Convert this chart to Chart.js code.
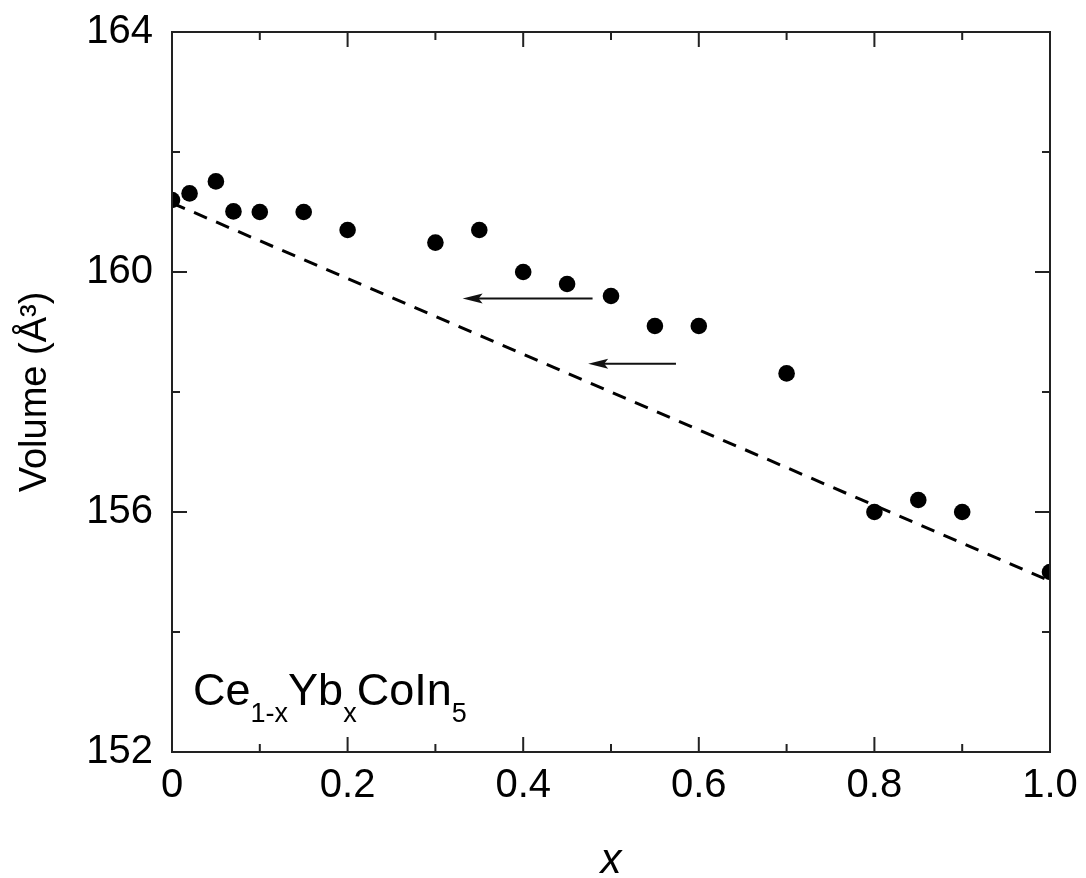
<!DOCTYPE html>
<html>
<head>
<meta charset="utf-8">
<script src="https://cdn.jsdelivr.net/npm/chart.js@4/dist/chart.umd.min.js"></script>
<style>
  html, body { margin: 0; padding: 0; background: #fff; }
  #wrap { width: 1086px; height: 878px; }
</style>
</head>
<body>
<div id="wrap"><canvas id="c" width="1086" height="878"></canvas></div>
<script>
// ---- data ----
const xValues = [0, 0.02, 0.05, 0.07, 0.10, 0.15, 0.20, 0.30, 0.35, 0.40, 0.45, 0.50, 0.55, 0.60, 0.70, 0.80, 0.85, 0.90, 1.00];
const volumes = [161.20, 161.31, 161.51, 161.01, 161.00, 161.00, 160.70, 160.49, 160.70, 160.00, 159.80, 159.60, 159.10, 159.10, 158.31, 156.00, 156.20, 156.00, 155.00];
const vegardX = [0, 1];
const vegardY = [161.15, 154.85];
const arrowFromX = [0.479, 0.574];
const arrowToX = [0.331, 0.474];
const arrowY = [159.56, 158.47];
const xTickLabels = ['0', '0.2', '0.4', '0.6', '0.8', '1.0'];
const yTickLabels = ['152', '156', '160', '164'];
const xMajorTicks = [0, 0.2, 0.4, 0.6, 0.8, 1.0];
const xMinorTicks = [0.1, 0.3, 0.5, 0.7, 0.9];
const yMajorTicks = [152, 156, 160, 164];
const yMinorTicks = [154, 158, 162];
const compoundLabel = [['Ce', ''], ['1-x', 'sub'], ['Yb', ''], ['x', 'sub'], ['CoIn', ''], ['5', 'sub']];
const labelAnchor = { x: 0.024, y: 152.78 };

const FONT = "'Liberation Sans', Arial, sans-serif";

const points = xValues.map((x, i) => ({ x: x, y: volumes[i] }));
const vegard = vegardX.map((x, i) => ({ x: x, y: vegardY[i] }));

const framePlugin = {
  id: 'frame',
  afterDatasetsDraw(chart) {
    const { ctx, chartArea: a, scales } = chart;
    const xs = scales.x, ys = scales.y;
    ctx.save();
    // arrows
    ctx.strokeStyle = '#111';
    ctx.fillStyle = '#111';
    ctx.lineWidth = 2;
    for (let i = 0; i < arrowY.length; i++) {
      const x1 = xs.getPixelForValue(arrowFromX[i]);
      const x2 = xs.getPixelForValue(arrowToX[i]);
      const y = ys.getPixelForValue(arrowY[i]);
      ctx.beginPath();
      ctx.moveTo(x1, y);
      ctx.lineTo(x2 + 14, y);
      ctx.stroke();
      ctx.beginPath();
      ctx.moveTo(x2, y);
      ctx.lineTo(x2 + 20, y - 5);
      ctx.lineTo(x2 + 16, y);
      ctx.lineTo(x2 + 20, y + 5);
      ctx.closePath();
      ctx.fill();
    }
    // frame
    ctx.strokeStyle = '#222';
    ctx.lineWidth = 2;
    ctx.strokeRect(a.left, a.top, a.right - a.left, a.bottom - a.top);
    // ticks (inward)
    ctx.beginPath();
    const tick = (vals, len) => {
      vals.forEach(v => {
        const px = xs.getPixelForValue(v);
        ctx.moveTo(px, a.bottom); ctx.lineTo(px, a.bottom - len);
        ctx.moveTo(px, a.top); ctx.lineTo(px, a.top + len);
      });
    };
    const ytick = (vals, len) => {
      vals.forEach(v => {
        const py = ys.getPixelForValue(v);
        ctx.moveTo(a.left, py); ctx.lineTo(a.left + len, py);
        ctx.moveTo(a.right, py); ctx.lineTo(a.right - len, py);
      });
    };
    tick(xMajorTicks, 15);
    tick(xMinorTicks, 8);
    ytick(yMajorTicks, 15);
    ytick(yMinorTicks, 8);
    ctx.stroke();
    // compound label
    let px = xs.getPixelForValue(labelAnchor.x);
    const py = ys.getPixelForValue(labelAnchor.y);
    ctx.fillStyle = '#000';
    ctx.textBaseline = 'alphabetic';
    ctx.textAlign = 'left';
    compoundLabel.forEach(([t, kind]) => {
      if (kind === 'sub') {
        ctx.font = '27px ' + FONT;
        ctx.fillText(t, px, py + 17);
      } else {
        ctx.font = '45px ' + FONT;
        ctx.fillText(t, px, py);
      }
      px += ctx.measureText(t).width;
    });
    ctx.restore();
  }
};

new Chart(document.getElementById('c'), {
  type: 'scatter',
  data: {
    datasets: [
      {
        type: 'line',
        data: vegard,
        borderColor: '#000',
        borderWidth: 3,
        borderDash: [14, 10],
        pointRadius: 0,
        fill: false,
        order: 2
      },
      {
        data: points,
        backgroundColor: '#000',
        borderWidth: 0,
        pointRadius: 8.3,
        pointHoverRadius: 8.3,
        clip: 0,
        order: 1
      }
    ]
  },
  options: {
    responsive: false,
    animation: false,
    events: [],
    layout: { padding: { left: 0, right: 36, top: 32, bottom: 0 } },
    plugins: { legend: { display: false }, tooltip: { enabled: false } },
    scales: {
      x: {
        type: 'linear',
        min: 0, max: 1,
        afterFit(s) { s.height = 126; s.paddingLeft = 0; s.paddingRight = 0; },
        ticks: {
          stepSize: 0.2,
          padding: 10,
          color: '#000',
          font: { family: FONT, size: 40 },
          maxRotation: 0,
          callback(v) {
            const i = xMajorTicks.findIndex(t => Math.abs(t - v) < 1e-6);
            return i >= 0 ? xTickLabels[i] : '';
          }
        },
        grid: { display: false, drawTicks: false },
        border: { display: false },
        title: {
          display: true,
          text: 'x',
          color: '#000',
          font: { family: FONT, size: 42, style: 'italic', lineHeight: 0.8 },
          padding: { top: 0, bottom: 0 }
        }
      },
      y: {
        type: 'linear',
        min: 152, max: 164,
        afterFit(s) { s.width = 172; s.paddingTop = 0; s.paddingBottom = 0; },
        ticks: {
          stepSize: 4,
          padding: 19,
          color: '#000',
          font: { family: FONT, size: 40 },
          callback(v) {
            const i = yMajorTicks.findIndex(t => Math.abs(t - v) < 1e-6);
            return i >= 0 ? yTickLabels[i] : '';
          }
        },
        grid: { display: false, drawTicks: false },
        border: { display: false },
        title: {
          display: true,
          text: 'Volume (Å³)',
          color: '#000',
          font: { family: FONT, size: 38 },
          padding: { top: 13, bottom: 0 }
        }
      }
    }
  },
  plugins: [framePlugin]
});
</script>
</body>
</html>
